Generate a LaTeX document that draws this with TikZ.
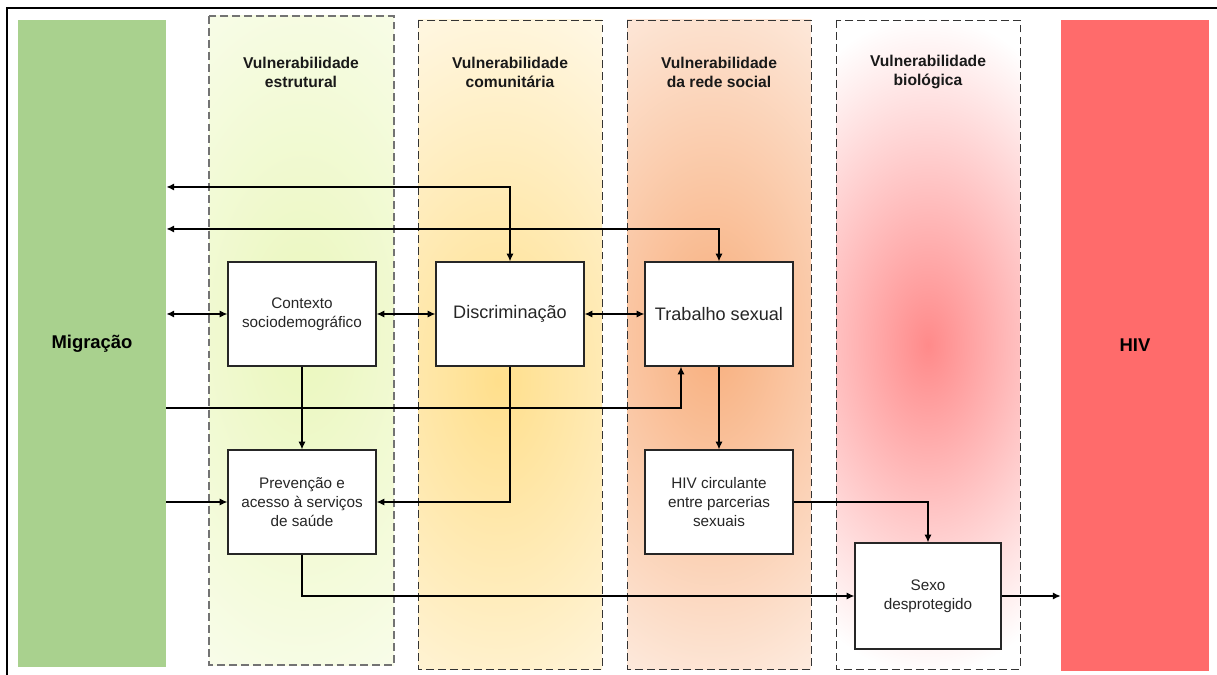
\documentclass[tikz,border=0pt]{standalone}
\usepackage{fontspec}
\setmainfont{Liberation Sans}
\usepackage{tikz}
\usetikzlibrary{calc,arrows.meta}
\definecolor{migcol}{HTML}{A9D18E}
\definecolor{hivcol}{HTML}{FF6B6B}
\definecolor{glowA}{HTML}{EAF7BC}
\definecolor{glowB}{HTML}{FFDF8C}
\definecolor{glowC}{HTML}{F8AE7C}
\definecolor{glowD}{HTML}{FF8A8A}
\tikzset{
  >={Latex[length=4.5pt,width=4.2pt]},
  box/.style={draw=black!85, line width=0.6pt, fill=white, inner sep=1pt,
    minimum width=2.96cm, minimum height=2.08cm, align=center,
    text=black!85, font=\fontsize{8.7}{10.6}\selectfont},
  bigbox/.style={box, font=\fontsize{10.3}{12}\selectfont},
  head/.style={align=center, text=black!90, font=\bfseries\fontsize{8.9}{10.8}\selectfont},
  bar/.style={inner sep=0pt, minimum width=2.96cm, font=\bfseries\fontsize{10.5}{12}\selectfont},
  arr/.style={line width=1.134pt, ->},
}
\def\glowcol[#1](#2,#3,#4,#5)(#6,#7)(#8:#9){%
  \begin{scope}\clip (#2,#3) rectangle (#4,#5);
  \shade[inner color=#1, outer color=white] (#6,#7) ellipse (#8 and #9);
  \end{scope}}

\begin{document}
\begin{tikzpicture}[x=0.02cm,y=-0.02cm]
		%%%%% START %%%%%
		\useasboundingbox (0,0) rectangle (1217,675);
		\draw[line width=0.6pt] (7,675) -- (7,8) -- (1217,8);
		
		% colunas
		\glowcol[glowA](209,16,394,665)(302,330)(300:560);
		\glowcol[glowB](418,20,602,669)(498,380)(300:520);
		\glowcol[glowC](627,20,811,669)(712,335)(290:500);
		\glowcol[glowD](836,20,1020,669)(928,345)(200:330);
		\draw[black!55, line width=0.9pt, dash pattern=on 4.5pt off 2.3pt] (209,16) rectangle (394,665);
		\draw[black!80, line width=0.5pt, dash pattern=on 4.5pt off 2.3pt] (418,20) rectangle (602,669);
		\draw[black!80, line width=0.5pt, dash pattern=on 4.5pt off 2.3pt] (627,20) rectangle (811,669);
		\draw[black!80, line width=0.5pt, dash pattern=on 4.5pt off 2.3pt] (836,20) rectangle (1020,669);
		
		\node[head] (hdA) at (301,72) {Vulnerabilidade\\estrutural};
		\node[head] (hdB) at (510,72) {Vulnerabilidade\\comunitária};
		\node[head] (hdC) at (719,72) {Vulnerabilidade\\da rede social};
		\node[head] (hdD) at (928,72) {Vulnerabilidade\\biológica};
		
		\node[bar, fill=migcol, minimum height=12.94cm] (mig) at (92,343.5) {Migração};
		\node[bar, fill=hivcol, minimum height=13.02cm] (hiv) at (1135,345.5) {HIV};
		
		\node[box] (ctx) at (302,314) {Contexto\\sociodemográfico};
		\node[bigbox] (disc) at (510,314) {Discriminação};
		\node[bigbox] (trab) at (719,314) {Trabalho sexual};
		\node[box] (prev) at (302,502) {Prevenção e\\acesso à serviços\\de saúde};
		\node[box] (hivc) at (719,502) {HIV circulante\\entre parcerias\\sexuais};
		\node[box, minimum width=2.92cm, minimum height=2.12cm] (sexo) at (928,596) {Sexo\\desprotegido};
		
		% setas
		\draw[arr,<->] (mig.east |- 0,187) -| (disc.north);
		\draw[arr,<->] (mig.east |- 0,229) -| (trab.north);
		\draw[arr,<->] (mig.east |- ctx.west) -- (ctx.west);
		\draw[arr,<->] (ctx.east) -- (disc.west);
		\draw[arr,<->] (disc.east) -- (trab.west);
		\draw[arr] (mig.east |- 0,408) -| ($(trab.south)+(-38,0)$);
		\draw[arr] (ctx.south) -- (prev.north);
		\draw[arr] (disc.south) |- (prev.east);
		\draw[arr] (mig.east |- prev.west) -- (prev.west);
		\draw[arr] (trab.south) -- (hivc.north);
		\draw[arr] (hivc.east) -| (sexo.north);
		\draw[arr] (prev.south) |- (sexo.west);
		\draw[arr] (sexo.east) -- (hiv.west |- sexo.east);
		%%%%% END %%%%%
\end{tikzpicture}
\end{document}
